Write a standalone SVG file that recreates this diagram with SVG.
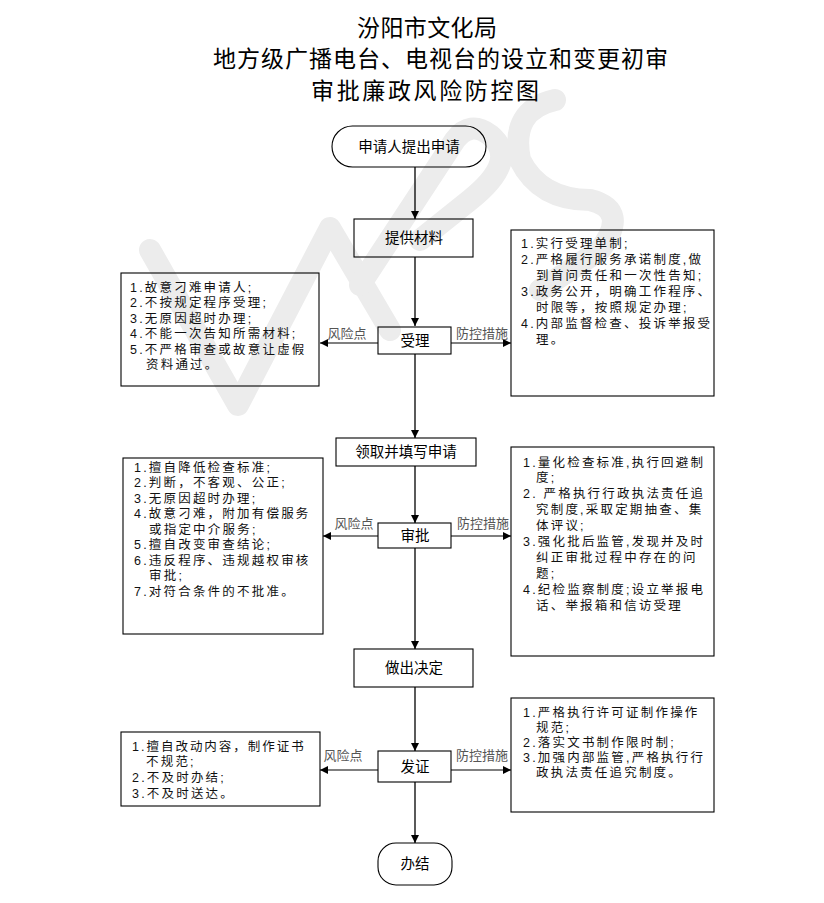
<svg xmlns="http://www.w3.org/2000/svg" width="824" height="903" viewBox="0 0 824 903">
<style>
.t{font-family:"Noto Sans CJK SC","Liberation Sans",sans-serif;fill:#000}
.title{font-size:23px}
.node{font-size:14.5px;text-anchor:middle}
.box{font-family:"Liberation Sans","Noto Sans CJK SC",sans-serif;font-size:12.5px;letter-spacing:2.2px;fill:#111}
.lbl{font-size:13px;text-anchor:middle;fill:#555}
.shape{fill:none;stroke:#000;stroke-width:1.1}
.v{stroke:#000;stroke-width:1.3;fill:none}
.h{stroke:#555;stroke-width:1.5;fill:none}
.wm{fill:none;stroke:#ececec;stroke-width:22;stroke-linecap:round;stroke-linejoin:round}
</style>
<defs>
<marker id="ah" viewBox="0 0 10 10" refX="10" refY="5" markerWidth="9" markerHeight="8" markerUnits="userSpaceOnUse" orient="auto">
<path d="M0,0 L10,5 L0,10 Z" fill="#000"/>
</marker>
</defs>
<rect width="824" height="903" fill="#fff"/>
<g id="watermark">
<path class="wm" d="M150,250 L238,405 L330,228 L390,330"/>
<path class="wm" d="M360,285 L455,140 Q470,120 490,135 Q520,160 470,200 L420,240"/>
<path class="wm" d="M555,100 Q510,110 520,160 Q540,200 590,200 Q630,210 600,250 L540,290"/>
</g>
<g id="title">
<text class="t title" x="357" y="36" textLength="140" lengthAdjust="spacing">汾阳市文化局</text>
<text class="t title" x="213" y="67" textLength="455" lengthAdjust="spacing">地方级广播电台、电视台的设立和变更初审</text>
<text class="t title" x="311" y="99" textLength="228" lengthAdjust="spacing">审批廉政风险防控图</text>
</g>
<g id="connectors">
<line class="v" x1="415" y1="167" x2="415" y2="219" marker-end="url(#ah)"/>
<line class="v" x1="415" y1="257" x2="415" y2="326" marker-end="url(#ah)"/>
<line class="v" x1="415" y1="354" x2="415" y2="438" marker-end="url(#ah)"/>
<line class="v" x1="415" y1="466" x2="415" y2="523" marker-end="url(#ah)"/>
<line class="v" x1="415" y1="548" x2="415" y2="649" marker-end="url(#ah)"/>
<line class="v" x1="415" y1="687" x2="415" y2="751" marker-end="url(#ah)"/>
<line class="v" x1="415" y1="782" x2="415" y2="843" marker-end="url(#ah)"/>
<line class="h" x1="378" y1="343" x2="320" y2="343" marker-end="url(#ah)"/>
<line class="h" x1="451" y1="343" x2="511" y2="343" marker-end="url(#ah)"/>
<line class="h" x1="378" y1="536" x2="323" y2="536" marker-end="url(#ah)"/>
<line class="h" x1="451" y1="536" x2="511" y2="536" marker-end="url(#ah)"/>
<line class="h" x1="378" y1="770" x2="320" y2="770" marker-end="url(#ah)"/>
<line class="h" x1="451" y1="770" x2="511" y2="770" marker-end="url(#ah)"/>
<text class="t lbl" x="347" y="338">风险点</text>
<text class="t lbl" x="482" y="338">防控措施</text>
<text class="t lbl" x="354" y="528">风险点</text>
<text class="t lbl" x="483" y="528">防控措施</text>
<text class="t lbl" x="343" y="760">风险点</text>
<text class="t lbl" x="482" y="760">防控措施</text>
</g>
<g id="n-start">
<rect class="shape" x="332" y="126" width="154" height="41" rx="20.5"/>
<text class="t node" x="409" y="152">申请人提出申请</text>
</g>
<g id="n-material">
<rect class="shape" x="354" y="219" width="119" height="38"/>
<text class="t node" x="414" y="243">提供材料</text>
</g>
<g id="n-accept">
<rect class="shape" x="378" y="327" width="73" height="27"/>
<text class="t node" x="415" y="346">受理</text>
</g>
<g id="n-fill">
<rect class="shape" x="336" y="438" width="140" height="28"/>
<text class="t node" x="406" y="457">领取并填写申请</text>
</g>
<g id="n-approve">
<rect class="shape" x="378" y="523" width="73" height="25"/>
<text class="t node" x="415" y="541">审批</text>
</g>
<g id="n-decide">
<rect class="shape" x="354" y="649" width="119" height="38"/>
<text class="t node" x="414" y="673">做出决定</text>
</g>
<g id="n-issue">
<rect class="shape" x="378" y="751" width="73" height="31"/>
<text class="t node" x="415" y="772">发证</text>
</g>
<g id="n-end">
<rect class="shape" x="378" y="843" width="74" height="42" rx="18"/>
<text class="t node" x="415" y="869">办结</text>
</g>
<g id="risk-1">
<rect class="shape" x="121" y="273" width="198" height="113"/>
<text class="t box" y="291.5"><tspan x="130">1.故意刁难申请人;</tspan><tspan x="130" dy="15.5">2.不按规定程序受理;</tspan><tspan x="130" dy="15.5">3.无原因超时办理;</tspan><tspan x="130" dy="15.5">4.不能一次告知所需材料;</tspan><tspan x="130" dy="15.5">5.不严格审查或故意让虚假</tspan><tspan x="146" dy="15.5">资料通过。</tspan></text>
</g>
<g id="ctrl-1">
<rect class="shape" x="511" y="230" width="203" height="166"/>
<text class="t box" y="247.5"><tspan x="521">1.实行受理单制;</tspan><tspan x="521" dy="16">2.严格履行服务承诺制度,做</tspan><tspan x="536" dy="16">到首问责任和一次性告知;</tspan><tspan x="521" dy="16">3.政务公开，明确工作程序、</tspan><tspan x="536" dy="16">时限等，按照规定办理;</tspan><tspan x="521" dy="16">4.内部监督检查、投诉举报受</tspan><tspan x="536" dy="16">理。</tspan></text>
</g>
<g id="risk-2">
<rect class="shape" x="123" y="458" width="200" height="176"/>
<text class="t box" y="471.5"><tspan x="134">1.擅自降低检查标准;</tspan><tspan x="134" dy="15.5">2.判断，不客观、公正;</tspan><tspan x="134" dy="15.5">3.无原因超时办理;</tspan><tspan x="134" dy="15.5">4.故意刁难，附加有偿服务</tspan><tspan x="149" dy="15.5">或指定中介服务;</tspan><tspan x="134" dy="15.5">5.擅自改变审查结论;</tspan><tspan x="134" dy="15.5">6.违反程序、违规越权审核</tspan><tspan x="149" dy="15.5">审批;</tspan><tspan x="134" dy="15.5">7.对符合条件的不批准。</tspan></text>
</g>
<g id="ctrl-2">
<rect class="shape" x="511" y="447" width="203" height="209"/>
<text class="t box" y="466.5"><tspan x="523">1.量化检查标准,执行回避制</tspan><tspan x="536" dy="15.9">度;</tspan><tspan x="523" dy="15.9">2. 严格执行行政执法责任追</tspan><tspan x="536" dy="15.9">究制度,采取定期抽查、集</tspan><tspan x="536" dy="15.9">体评议;</tspan><tspan x="523" dy="15.9">3.强化批后监管,发现并及时</tspan><tspan x="536" dy="15.9">纠正审批过程中存在的问</tspan><tspan x="536" dy="15.9">题;</tspan><tspan x="523" dy="15.9">4.纪检监察制度;设立举报电</tspan><tspan x="536" dy="15.9">话、举报箱和信访受理</tspan></text>
</g>
<g id="risk-3">
<rect class="shape" x="121" y="732" width="199" height="74"/>
<text class="t box" y="750.5"><tspan x="132" textLength="174" lengthAdjust="spacing">1.擅自改动内容，制作证书</tspan><tspan x="146" dy="15.7">不规范;</tspan><tspan x="132" dy="15.7">2.不及时办结;</tspan><tspan x="132" dy="15.7">3.不及时送达。</tspan></text>
</g>
<g id="ctrl-3">
<rect class="shape" x="511" y="698" width="203" height="114"/>
<text class="t box" y="716.5"><tspan x="523">1.严格执行许可证制作操作</tspan><tspan x="536" dy="15.2">规范;</tspan><tspan x="523" dy="15.2">2.落实文书制作限时制;</tspan><tspan x="523" dy="15.2">3.加强内部监管,严格执行行</tspan><tspan x="536" dy="15.2">政执法责任追究制度。</tspan></text>
</g>
</svg>
